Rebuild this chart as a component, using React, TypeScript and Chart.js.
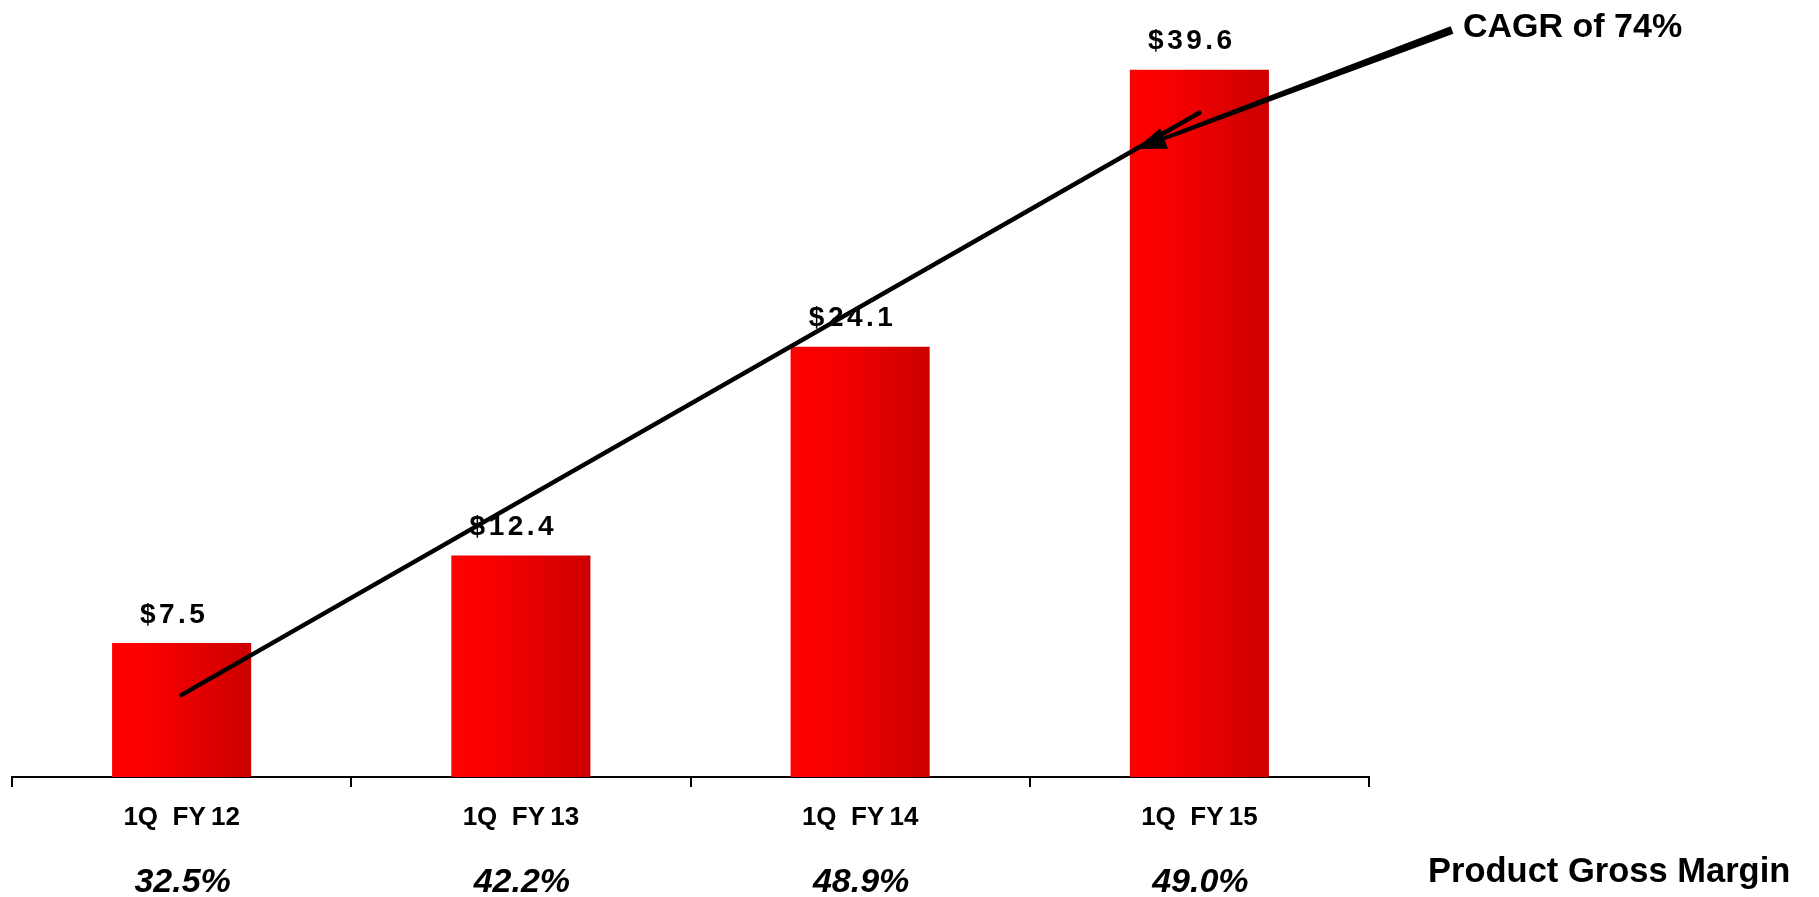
import React, { useEffect, useRef } from 'react';
import { Chart, registerables } from 'chart.js';

Chart.register(...registerables);

// ---- data ----
const categories = ['1Q  FY\u200912', '1Q  FY\u200913', '1Q  FY\u200914', '1Q  FY\u200915'];
const revenue = [7.5, 12.4, 24.1, 39.6];
const valueLabels = ['$7.5', '$12.4', '$24.1', '$39.6'];
const grossMargin = ['32.5%', '42.2%', '48.9%', '49.0%'];
const trendLine: (number | null)[] = [4.6, null, null, 37.2];
const cagrText = 'CAGR of 74%';
const marginTitle = 'Product Gross Margin';
const arrowTipIndex = 2.813; // where the CAGR arrow touches the trend line (category units)

const FONT = '"Liberation Sans", Arial, Helvetica, sans-serif';
const BAR_PCT = 0.41;

const annotationPlugin = {
  id: 'annotations',
  afterDatasetsDraw(chart: any) {
    const ctx = chart.ctx as CanvasRenderingContext2D;
    const xs = chart.scales.x;
    const ys = chart.scales.y;
    const area = chart.chartArea;
    const barMeta = chart.getDatasetMeta(1);

    ctx.save();
    ctx.fillStyle = '#000';
    ctx.textBaseline = 'alphabetic';

    // value labels above bars
    ctx.font = `bold 28px ${FONT}`;
    (ctx as any).letterSpacing = '3.5px';
    ctx.textAlign = 'center';
    barMeta.data.forEach((bar: any, i: number) => {
      ctx.fillText(valueLabels[i], bar.x - 7.5, bar.y - 20.5);
    });
    (ctx as any).letterSpacing = '0px';

    // gross margin row
    ctx.font = `italic bold 34px ${FONT}`;
    grossMargin.forEach((t, i) => {
      ctx.fillText(t, xs.getPixelForValue(i) + 1, area.bottom + 115);
    });

    ctx.font = `bold 34.5px ${FONT}`;
    ctx.textAlign = 'left';
    ctx.fillText(marginTitle, area.right + 59, area.bottom + 105);

    // CAGR text
    ctx.font = `bold 34px ${FONT}`;
    const textX = area.right + 94;
    const textBase = 37;
    ctx.fillText(cagrText, textX, textBase);

    // arrow from text to trend line
    const frac = arrowTipIndex / (categories.length - 1);
    const tipX = xs.getPixelForValue(arrowTipIndex);
    const tipY = ys.getPixelForValue(
      (trendLine[0] as number) + ((trendLine[3] as number) - (trendLine[0] as number)) * frac
    );
    const tailX = textX - 11;
    const tailY = textBase - 7;
    const dx = tipX - tailX;
    const dy = tipY - tailY;
    const len = Math.hypot(dx, dy);
    const ux = dx / len, uy = dy / len;
    const nx = -uy, ny = ux;
    const headLen = 30, headHalf = 11;
    const bx = tipX - ux * headLen, by = tipY - uy * headLen;
    ctx.beginPath();
    ctx.moveTo(tailX + nx * 4, tailY + ny * 4);
    ctx.lineTo(bx + nx * 2, by + ny * 2);
    ctx.lineTo(bx - nx * 2, by - ny * 2);
    ctx.lineTo(tailX - nx * 4, tailY - ny * 4);
    ctx.closePath();
    ctx.fill();
    ctx.beginPath();
    ctx.moveTo(tipX, tipY);
    ctx.lineTo(bx + nx * headHalf, by + ny * headHalf);
    ctx.lineTo(bx - nx * headHalf, by - ny * headHalf);
    ctx.closePath();
    ctx.fill();

    ctx.restore();
  },
};

export default function App() {
  const canvasRef = useRef<HTMLCanvasElement | null>(null);

  useEffect(() => {
    if (!canvasRef.current) return;
    const chart = new Chart(canvasRef.current, {
      type: 'bar',
      data: {
        labels: categories,
        datasets: [
          {
            type: 'line',
            data: trendLine,
            borderColor: '#000',
            borderWidth: 4.5,
            pointRadius: 0,
            spanGaps: true,
            borderCapStyle: 'round',
            order: 0,
          } as any,
          {
            type: 'bar',
            data: revenue,
            categoryPercentage: 1,
            barPercentage: BAR_PCT,
            order: 1,
            backgroundColor: (c: any) => {
              const ch = c.chart;
              const xs = ch.scales?.x;
              if (!xs || c.dataIndex == null) return '#ee0000';
              const center = xs.getPixelForValue(c.dataIndex);
              const half = ((xs.width / categories.length) * BAR_PCT) / 2;
              if (!Number.isFinite(center) || !Number.isFinite(half) || half <= 0) return '#ee0000';
              const g = ch.ctx.createLinearGradient(center - half, 0, center + half, 0);
              g.addColorStop(0, '#ff0000');
              g.addColorStop(0.3, '#f70000');
              g.addColorStop(1, '#cc0000');
              return g;
            },
          },
        ],
      },
      options: {
        responsive: true,
        maintainAspectRatio: false,
        animation: false,
        layout: { padding: { left: 12, right: 450, top: 27, bottom: 0 } },
        plugins: { legend: { display: false }, tooltip: { enabled: false } },
        scales: {
          x: {
            grid: {
              display: true,
              drawOnChartArea: false,
              drawTicks: true,
              tickLength: 10,
              color: '#000',
              lineWidth: 2,
            },
            border: { display: true, color: '#000', width: 2 },
            ticks: {
              color: '#000',
              font: { family: FONT, weight: 'bold', size: 26 },
              padding: 15,
              maxRotation: 0,
              autoSkip: false,
            },
            afterFit: (s: any) => {
              s.height = 120;
            },
          },
          y: { display: false, min: 0, max: 42 },
        },
      } as any,
      plugins: [annotationPlugin],
    });
    return () => chart.destroy();
  }, []);

  return (
    <div style={{ position: 'absolute', left: 0, top: 0, width: 1819, height: 897, background: '#fff' }}>
      <canvas ref={canvasRef} />
    </div>
  );
}
